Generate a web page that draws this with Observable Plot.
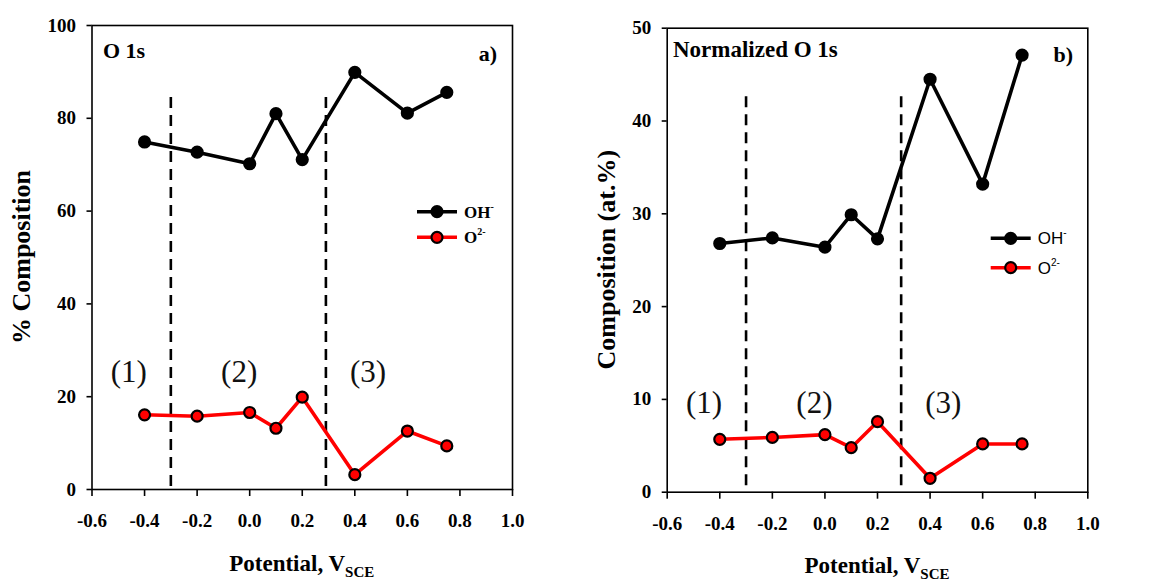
<!DOCTYPE html>
<html><head><meta charset="utf-8">
<script src="https://cdn.jsdelivr.net/npm/d3@7"></script>
<script src="https://cdn.jsdelivr.net/npm/@observablehq/plot@0.6"></script>
<style>
body{margin:0;background:#fff;}
#wrap{display:flex;width:1160px;height:583px;}
.panel{position:relative;width:580px;height:583px;}
</style></head><body><div id="wrap"><div class="panel" id="pa"></div><div class="panel" id="pb"></div></div>
<script>
// ---- data ----
const potentials = [-0.4, -0.2, 0.0, 0.1, 0.2, 0.4, 0.6, 0.75];
const ohA = [74.9, 72.7, 70.2, 81.0, 71.1, 89.9, 81.1, 85.6];
const o2A = [16.1, 15.8, 16.6, 13.2, 19.9, 3.2, 12.6, 9.4];
const ohB = [26.8, 27.4, 26.4, 29.9, 27.3, 44.5, 33.2, 47.1];
const o2B = [5.7, 5.9, 6.2, 4.8, 7.6, 1.5, 5.2, 5.2];
const xTicks = [-0.6, -0.4, -0.2, 0.0, 0.2, 0.4, 0.6, 0.8, 1.0];
const yTicksA = [0, 20, 40, 60, 80, 100];
const yTicksB = [0, 10, 20, 30, 40, 50];
const regionBounds = [-0.3, 0.29];
const regionLabels = ["(1)", "(2)", "(3)"];
const regionLabelX = [-0.46, -0.04, 0.45];
const seriesBase = ["OH", "O"];
const seriesSup = ["-", "2-"];
const seriesColors = ["#000000", "#ff0000"];

function panel(el, o) {
  const s1 = potentials.map((p, i) => ({x: p, y: o.oh[i]}));
  const s2 = potentials.map((p, i) => ({x: p, y: o.o2[i]}));
  const chart = Plot.plot({
    width: 580, height: 583,
    marginLeft: o.ml, marginTop: o.mt, marginRight: o.mr, marginBottom: o.mb,
    style: {fontFamily: "'Liberation Serif', 'Times New Roman', serif", fontSize: "19px", fontWeight: "bold", color: "#000", background: "#fff", overflow: "visible"},
    x: {domain: [-0.6, 1.0]},
    y: {domain: [0, o.ymax]},
    marks: [
      Plot.ruleX(regionBounds, {y1: o.dashTop, y2: 0, stroke: "#000", strokeWidth: 2.6, strokeDasharray: "11,7"}),
      Plot.line(s1, {x: "x", y: "y", stroke: seriesColors[0], strokeWidth: 3.6}),
      Plot.line(s2, {x: "x", y: "y", stroke: seriesColors[1], strokeWidth: 3.6}),
      Plot.dot(s1, {x: "x", y: "y", r: 5.5, fill: seriesColors[0], stroke: "#000", strokeWidth: 2.2}),
      Plot.dot(s2, {x: "x", y: "y", r: 5.5, fill: seriesColors[1], stroke: "#000", strokeWidth: 2.2}),
      Plot.text(regionLabels, {x: (d, i) => regionLabelX[i], y: () => o.labelY, text: d => d, fontSize: 31, fontWeight: "normal", fill: "#111"}),
      Plot.frame({stroke: "#000", strokeWidth: 1.6}),
      Plot.axisX({ticks: xTicks, tickFormat: d => d.toFixed(1), tickSize: 7, tickPadding: 17, strokeWidth: 1.6, fontSize: 19, label: null}),
      Plot.axisY({ticks: o.yTicks, tickFormat: d => String(d), tickSize: 5, tickPadding: 11, strokeWidth: 1.6, fontSize: 19, label: null})
    ]
  });
  el.appendChild(chart);
  const svg = d3.select(chart);
  const sx = chart.scale("x"), sy = chart.scale("y");
  const fam = "'Liberation Serif', 'Times New Roman', serif";
  // panel titles
  svg.append("text").attr("x", o.titleX).attr("y", o.titleY).attr("text-anchor", "start").attr("font-family", fam)
    .attr("font-size", o.titleSize).attr("font-weight", "bold").text(o.title);
  svg.append("text").attr("x", o.tagX).attr("y", o.tagY).attr("text-anchor", "end").attr("font-family", fam)
    .attr("font-size", 22).attr("font-weight", "bold").text(o.tag);
  // y axis title
  const cy = (sy.apply(0) + sy.apply(o.ymax)) / 2;
  svg.append("text").attr("transform", `translate(${o.yTitleX},${cy}) rotate(-90)`).attr("text-anchor", "middle")
    .attr("font-family", fam).attr("font-size", 26).attr("font-weight", "bold").text(o.yTitle);
  // x axis title
  const cx = (sx.apply(-0.6) + sx.apply(1.0)) / 2;
  const xt = svg.append("text").attr("x", cx).attr("y", o.xTitleY).attr("text-anchor", "middle")
    .attr("font-family", fam).attr("font-size", 23).attr("font-weight", "bold");
  xt.append("tspan").text("Potential, V");
  xt.append("tspan").attr("font-size", 15).attr("dy", 6).text("SCE");
  // legend
  const lg = svg.append("g");
  seriesBase.forEach((name, i) => {
    const yy = o.legY[i];
    lg.append("line").attr("x1", o.legX0).attr("x2", o.legX0 + 40).attr("y1", yy).attr("y2", yy)
      .attr("stroke", seriesColors[i]).attr("stroke-width", 3.6);
    lg.append("circle").attr("cx", o.legX0 + 20).attr("cy", yy).attr("r", 5.5)
      .attr("fill", seriesColors[i]).attr("stroke", "#000").attr("stroke-width", 2.2);
    const t = lg.append("text").attr("x", o.legX0 + 47).attr("y", yy + 6).attr("text-anchor", "start")
      .attr("font-family", o.legFont).attr("font-size", 17).attr("font-weight", o.legWeight);
    t.append("tspan").text(name);
    t.append("tspan").attr("font-size", 10).attr("dy", -8).text(seriesSup[i]);
  });
}

panel(document.getElementById("pa"), {
  oh: ohA, o2: o2A, ymax: 100, yTicks: yTicksA, dashTop: 84.5, labelY: 25.3,
  ml: 91.5, mt: 25, mr: 68, mb: 94,
  title: "O 1s", titleX: 103, titleY: 58, titleSize: 22, tag: "a)", tagX: 497, tagY: 61,
  yTitle: "% Composition", yTitleX: 30, xTitleY: 571,
  legX0: 417, legY: [211.7, 237.3], legFont: "'Liberation Serif', serif", legWeight: "bold"
});
panel(document.getElementById("pb"), {
  oh: ohB, o2: o2B, ymax: 50, yTicks: yTicksB, dashTop: 42.6, labelY: 9.6,
  ml: 86.7, mt: 27.7, mr: 72.7, mb: 91.3,
  title: "Normalized O 1s", titleX: 93, titleY: 57, titleSize: 23, tag: "b)", tagX: 493, tagY: 62,
  yTitle: "Composition (at.%)", yTitleX: 35, xTitleY: 573,
  legX0: 410.7, legY: [238.3, 267.7], legFont: "'Liberation Sans', Arial, sans-serif", legWeight: "normal"
});
</script></body></html>
